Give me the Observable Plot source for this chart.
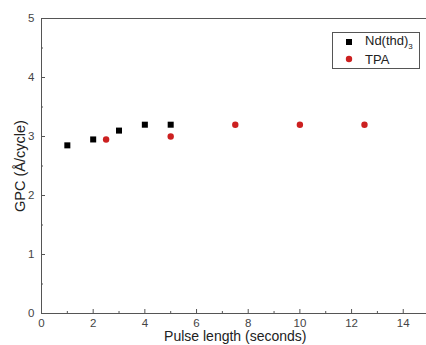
<!DOCTYPE html>
<html><head><meta charset="utf-8">
<script src="https://cdn.jsdelivr.net/npm/d3@7"></script>
<script src="https://cdn.jsdelivr.net/npm/@observablehq/plot@0.6"></script>
<style>
html,body{margin:0;padding:0;background:#fff;}
#wrap{position:relative;width:426px;height:345px;font-family:"Liberation Sans",Arial,sans-serif;}
#legend{position:absolute;left:332px;top:32px;width:88px;height:37px;border:1px solid #555;background:#fff;box-sizing:border-box;font-size:13px;color:#222;}
#legend .row{position:absolute;left:0;height:16px;display:flex;align-items:center;}
#legend .sym{width:32px;display:flex;justify-content:center;}
</style></head>
<body><div id="wrap"><div id="legend"></div></div>
<script>
const ndX = [1, 2, 3, 4, 5];
const ndY = [2.85, 2.95, 3.10, 3.20, 3.20];
const tpaX = [2.5, 5, 7.5, 10, 12.5];
const tpaY = [2.95, 3.00, 3.20, 3.20, 3.20];
const seriesNames = ["Nd(thd)", "TPA"];
const xTicks = [0, 2, 4, 6, 8, 10, 12, 14];
const xMinor = [1, 3, 5, 7, 9, 11, 13];
const yTicks = [0, 1, 2, 3, 4, 5];
const yMinor = [0.5, 1.5, 2.5, 3.5, 4.5];

const nd = ndX.map((x, i) => ({x, y: ndY[i]}));
const tpa = tpaX.map((x, i) => ({x, y: tpaY[i]}));
const red = "#cc2020";
const axisColor = "#555";

const chart = Plot.plot({
  width: 426, height: 345,
  marginLeft: 41, marginTop: 18, marginBottom: 32, marginRight: 0,
  style: {fontFamily: "Liberation Sans, Arial, sans-serif", fontSize: "11px", color: "#333", background: "#fff"},
  x: {domain: [0, 14.9]},
  y: {domain: [0, 5]},
  marks: [
    Plot.axisX({ticks: xTicks, tickSize: -4, tickPadding: 9, tickFormat: d3.format("d"), stroke: axisColor, fill: "#444", fontSize: 11.5, label: null}),
    Plot.axisX({ticks: xMinor, tickSize: -2, tickFormat: () => "", stroke: axisColor, label: null}),
    Plot.axisY({ticks: yTicks, tickSize: -4, tickPadding: 11, tickFormat: d3.format("d"), stroke: axisColor, fill: "#444", fontSize: 11.5, label: null}),
    Plot.axisY({ticks: yMinor, tickSize: -2, tickFormat: () => "", stroke: axisColor, label: null}),
    Plot.ruleX([0], {stroke: axisColor}),
    Plot.ruleY([0, 5], {stroke: axisColor}),
    Plot.dot(nd, {x: "x", y: "y", symbol: "square", r: 3.4, fill: "#000", stroke: "none"}),
    Plot.dot(tpa, {x: "x", y: "y", symbol: "circle", r: 3.2, fill: red, stroke: "none"}),
    Plot.text(["Pulse length (seconds)"], {frameAnchor: "bottom", lineAnchor: "middle", dy: 23, fontSize: 14, fill: "#222", x: 7.5}),
    Plot.text(["GPC (Å/cycle)"], {frameAnchor: "left", textAnchor: "middle", lineAnchor: "middle", dx: -21, rotate: -90, fontSize: 14.5, fill: "#222"})
  ]
});
document.getElementById("wrap").prepend(chart);
chart.style.position = "absolute"; chart.style.left = "0"; chart.style.top = "0";

const legend = document.getElementById("legend");
legend.innerHTML =
  `<div class="row" style="top:1px"><div class="sym"><svg width="7" height="7"><rect width="6" height="6" fill="#000"/></svg></div><span>${seriesNames[0]}<sub style="font-size:8px">3</sub></span></div>` +
  `<div class="row" style="top:18px"><div class="sym"><svg width="8" height="8"><circle cx="4" cy="4" r="3.2" fill="${red}"/></svg></div><span>${seriesNames[1]}</span></div>`;
</script>
</body></html>
